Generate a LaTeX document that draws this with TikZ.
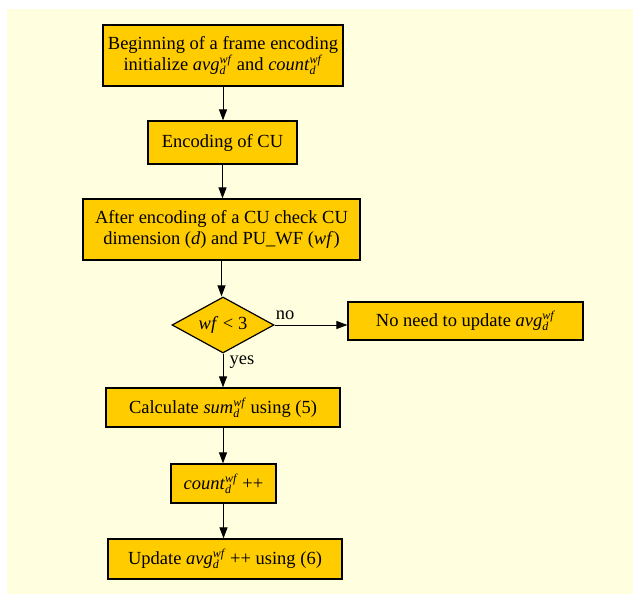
\documentclass[tikz,border=0pt]{standalone}
\usepackage{fontspec}
\setmainfont{Liberation Serif}
\usetikzlibrary{shapes.geometric,arrows.meta}
\definecolor{bgyellow}{HTML}{FFFFE0}
\definecolor{boxgold}{HTML}{FFCC00}
\newcommand{\vsd}[1]{\textit{#1}\makebox[0pt][l]{\raisebox{-0.45ex}{\fontsize{12}{12}\selectfont\textit{d}}}\raisebox{0.85ex}{\fontsize{12}{12}\selectfont\textit{wf}}}
\tikzset{
  flowbox/.style={draw=black, line width=1.2pt, fill=boxgold, align=center, inner sep=0pt,
    font=\fontsize{18.5}{21}\selectfont},
  decision/.style={diamond, draw=black, line width=1.2pt, fill=boxgold, inner sep=0pt, aspect=2,
    minimum width=102pt, minimum height=56pt, font=\fontsize{18.5}{21}\selectfont},
  flowarrow/.style={draw=black, line width=1pt, -{Triangle[length=11pt,width=8pt]}},
  edgelabel/.style={font=\fontsize{18.5}{21}\selectfont, inner sep=0pt}
}
\begin{document}
\begin{tikzpicture}[x=1pt,y=-1pt]
\fill[white] (0,0) rectangle (633,594);
\useasboundingbox (0,0) rectangle (633,594);
\fill[bgyellow] (7,9) rectangle (633,594);

\node[flowbox, minimum width=240pt, minimum height=61pt] (b1) at (223,55.5)
  {Beginning of a frame encoding\\ initialize \vsd{avg} and \vsd{count}};
\node[flowbox, minimum width=149pt, minimum height=43pt] (b2) at (222.5,142.5)
  {Encoding of CU};
\node[flowbox, minimum width=277pt, minimum height=61pt] (b3) at (221.5,229.5)
  {After encoding of a CU check CU\\ dimension (\textit{d}) and PU\_WF (\textit{wf})};
\node[decision] (dec) at (223,325) {\textit{wf} < 3};
\node[flowbox, minimum width=235pt, minimum height=38pt] (no) at (465.5,321)
  {No need to update \vsd{avg}};
\node[flowbox, minimum width=234pt, minimum height=39pt] (calc) at (223,407.5)
  {Calculate \vsd{sum} using (5)};
\node[flowbox, minimum width=105pt, minimum height=39pt] (cnt) at (223.5,483.5)
  {\vsd{count} ++};
\node[flowbox, minimum width=234pt, minimum height=40pt] (upd) at (225,559)
  {Update \vsd{avg} ++ using (6)};

\draw[flowarrow] (b1.south) -- (b1.south |- b2.north);
\draw[flowarrow] (b2.south) -- (b2.south |- b3.north);
\draw[flowarrow] (b3.south) -- (b3.south |- dec.north);
\draw[flowarrow] (dec.east) -- (dec.east -| no.west);
\draw[flowarrow] (dec.south) -- (dec.south |- calc.north);
\draw[flowarrow] (calc.south) -- (calc.south |- cnt.north);
\draw[flowarrow] (cnt.south) -- (cnt.south |- upd.north);

\node[edgelabel] (nolab) at (285,315) {no};
\node[edgelabel] (yeslab) at (242,362) {yes};
\end{tikzpicture}
\end{document}
